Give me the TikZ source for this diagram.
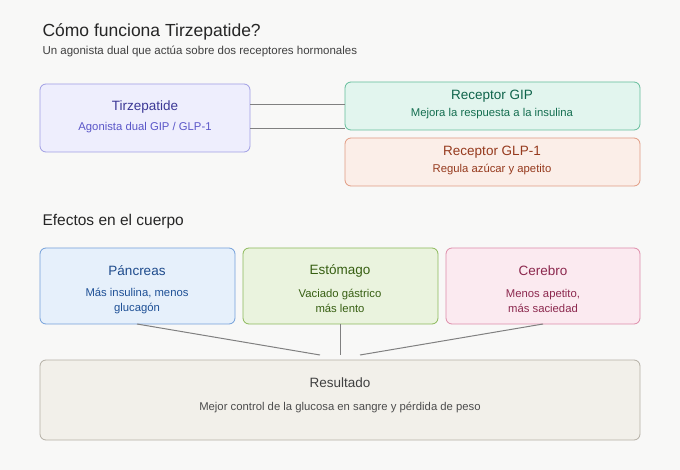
\documentclass[tikz,border=0pt]{standalone}
\usepackage{fontspec}
\setmainfont{Liberation Sans}
\begin{document}
\begin{tikzpicture}[x=1pt,y=-1pt,
 box/.style={draw,rounded corners=6pt,line width=0.8pt},
 conn/.style={draw=black!50,line width=1pt},
 t/.style={font=\fontsize{13.5}{15}\selectfont,anchor=center},
 s/.style={font=\fontsize{11.3}{14.5}\selectfont,anchor=center,align=center}]
\definecolor{bg}{HTML}{F8F8F7}
\fill[bg] (0,0) rectangle (680,470);
\useasboundingbox (0,0) rectangle (680,470);
\node[anchor=west,font=\fontsize{17.5}{19}\selectfont,text=black!85] (title) at (39,32) {Cómo funciona Tirzepatide?};
\node[anchor=west,font=\fontsize{11.5}{13}\selectfont,text=black!75] (sub) at (39,51) {Un agonista dual que actúa sobre dos receptores hormonales};
\draw[box,fill={rgb,255:red,238;green,238;blue,253},draw={rgb,255:red,160;green,158;blue,228}] (40,84) rectangle (250,152);
\node[t,text={rgb,255:red,60;green,56;blue,150}] (tz) at (145,107) {Tirzepatide};
\node[s,text={rgb,255:red,90;green,86;blue,200}] (tzs) at (145,128) {Agonista dual GIP / GLP-1};
\draw[box,fill={rgb,255:red,226;green,245;blue,238},draw={rgb,255:red,100;green,190;blue,155}] (345,82) rectangle (640,130);
\node[t,text={rgb,255:red,15;green,100;blue,75}] (gip) at (492,96) {Receptor GIP};
\node[s,text={rgb,255:red,20;green,110;blue,80}] (gips) at (492,114) {Mejora la respuesta a la insulina};
\draw[box,fill={rgb,255:red,251;green,238;blue,232},draw={rgb,255:red,225;green,155;blue,130}] (345,138) rectangle (640,186);
\node[t,text={rgb,255:red,150;green,58;blue,30}] (glp) at (492,152) {Receptor GLP-1};
\node[s,text={rgb,255:red,150;green,58;blue,30}] (glps) at (492,170) {Regula azúcar y apetito};
\coordinate (a1) at (250,105); \coordinate (b1) at (345,105);
\coordinate (a2) at (250,129); \coordinate (b2) at (345,129);
\draw[conn] (a1) -- (b1); \draw[conn] (a2) -- (b2);
\node[anchor=west,font=\fontsize{15.5}{17}\selectfont,text=black!85] (ef) at (39,221) {Efectos en el cuerpo};
\draw[box,fill={rgb,255:red,230;green,240;blue,251},draw={rgb,255:red,115;green,160;blue,218}] (40,248) rectangle (235,324);
\node[t,text={rgb,255:red,30;green,75;blue,140}] (pa) at (137,271) {Páncreas};
\node[s,text={rgb,255:red,30;green,80;blue,150}] (pas) at (137,301) {Más insulina, menos\\glucagón};
\draw[box,fill={rgb,255:red,234;green,243;blue,222},draw={rgb,255:red,140;green,185;blue,90}] (243,248) rectangle (438,324);
\node[t,text={rgb,255:red,55;green,95;blue,18}] (es) at (340,271) {Estómago};
\node[s,text={rgb,255:red,55;green,95;blue,18}] (ess) at (340,301) {Vaciado gástrico\\más lento};
\draw[box,fill={rgb,255:red,251;green,234;blue,240},draw={rgb,255:red,222;green,140;blue,170}] (446,248) rectangle (640,324);
\node[t,text={rgb,255:red,140;green,40;blue,78}] (ce) at (543,271) {Cerebro};
\node[s,text={rgb,255:red,140;green,40;blue,78}] (ces) at (543,301) {Menos apetito,\\más saciedad};
\draw[box,fill={rgb,255:red,242;green,240;blue,234},draw={rgb,255:red,180;green,176;blue,165}] (40,360) rectangle (640,440);
\node[t,text=black!75] (re) at (340,383) {Resultado};
\node[s,text=black!70] (res) at (340,408) {Mejor control de la glucosa en sangre y pérdida de peso};
\coordinate (p1) at (137,324); \coordinate (q1) at (320,355);
\coordinate (p2) at (340,324); \coordinate (q2) at (340,355);
\coordinate (p3) at (543,324); \coordinate (q3) at (360,355);
\draw[conn] (p1) -- (q1); \draw[conn] (p2) -- (q2); \draw[conn] (p3) -- (q3);
\end{tikzpicture}
\end{document}
